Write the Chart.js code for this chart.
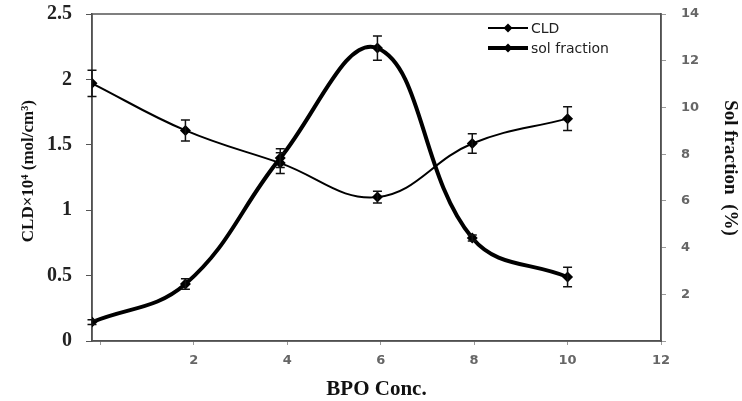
<!DOCTYPE html>
<html>
<head>
<meta charset="utf-8">
<script src="https://cdn.jsdelivr.net/npm/chart.js@4/dist/chart.umd.min.js"></script>
<style>
body{margin:0;background:#fff}
#wrap{width:742px;height:401px;position:relative}
</style>
</head>
<body>
<div id="wrap"><canvas id="bpoChart"></canvas></div>
<script>

// BPO concentration (x) for each measured sample
const bpoConc=[-0.18,1.82,3.85,5.93,7.96,10]

// crosslink density, left axis, with +/- error
const cld=[1.97,1.61,1.36,1.10,1.51,1.70]
const cldErr=[0.10,0.08,0.08,0.045,0.075,0.09]

// sol fraction in %, right axis, with +/- error
const solFraction=[0.81,2.44,7.83,12.54,4.41,2.74]
const solErr=[0.1,0.22,0.4,0.52,0.13,0.42]

const xTicks=[0,2,4,6,8,10,12]

const toPoints=(xs,ys)=>xs.map((x,i)=>({x:x,y:ys[i]}))

// vertical error bars with caps
const errorBars={
id:'errorBars',
afterDatasetsDraw(chart){
const ctx=chart.ctx
chart.data.datasets.forEach((ds,i)=>{
if(!ds.errors)return
const yScale=chart.scales[ds.yAxisID]
const xScale=chart.scales.x
ctx.save()
ctx.strokeStyle='#111'
ctx.lineWidth=1.5
ds.data.forEach((p,j)=>{
const px=xScale.getPixelForValue(p.x)
const top=yScale.getPixelForValue(p.y+ds.errors[j])
const bot=yScale.getPixelForValue(p.y-ds.errors[j])
ctx.beginPath()
ctx.moveTo(px,top);ctx.lineTo(px,bot)
ctx.moveTo(px-4.5,top);ctx.lineTo(px+4.5,top)
ctx.moveTo(px-4.5,bot);ctx.lineTo(px+4.5,bot)
ctx.stroke()
})
ctx.restore()
})
}
}

// box round the plot area plus the small legend in the top right
const frameAndLegend={
id:'frameAndLegend',
beforeDatasetsDraw(chart){
const a=chart.chartArea
const ctx=chart.ctx
ctx.save()
ctx.strokeStyle='#555'
ctx.lineWidth=1.5
ctx.strokeRect(a.left,a.top,a.right-a.left,a.bottom-a.top)
ctx.restore()
},
afterDraw(chart){
const ctx=chart.ctx
ctx.save()
chart.data.datasets.forEach((ds,i)=>{
const y=28+i*20
ctx.strokeStyle='#000'
ctx.lineWidth=ds.borderWidth
ctx.beginPath()
ctx.moveTo(488,y);ctx.lineTo(528,y)
ctx.stroke()
ctx.fillStyle='#000'
ctx.beginPath()
ctx.moveTo(508,y-4.5);ctx.lineTo(512.5,y);ctx.lineTo(508,y+4.5);ctx.lineTo(503.5,y)
ctx.closePath()
ctx.fill()
ctx.font='14px "DejaVu Sans"'
ctx.textBaseline='middle'
ctx.fillStyle='#222'
ctx.fillText(ds.label,531,y+1)
})
ctx.restore()
}
}

// labels overhanging the plot top should not push it down
const noOverhang=s=>{s.paddingTop=0;s.paddingBottom=0}

new Chart(
document.getElementById('bpoChart'),
{
type:'line',
data:{
datasets:[
{
label:'CLD',
data:toPoints(bpoConc,cld),
errors:cldErr,
yAxisID:'y',
borderColor:'#000',
backgroundColor:'#000',
borderWidth:2,
tension:0.4,
pointStyle:'rectRot',
pointRadius:5.5,
pointBorderWidth:0
},
{
label:'sol fraction',
data:toPoints(bpoConc,solFraction),
errors:solErr,
yAxisID:'y1',
borderColor:'#000',
backgroundColor:'#000',
borderWidth:4,
tension:0.4,
pointStyle:'rectRot',
pointRadius:5.5,
pointBorderWidth:0
}
]
},
options:{
responsive:true,
maintainAspectRatio:false,
animation:false,
layout:{padding:{top:14,left:0,right:0,bottom:0}},
plugins:{legend:{display:false},tooltip:{enabled:false}},
scales:{
x:{
type:'linear',
min:-0.18,
max:12,
afterBuildTicks:s=>{s.ticks=xTicks.map(v=>({value:v}))},
afterFit:s=>{s.height=60;s.paddingLeft=0;s.paddingRight=0},
ticks:{
callback:v=>v===0?'':v,
font:{family:'DejaVu Sans',size:13,weight:'bold'},
color:'#666',
padding:8
},
grid:{drawOnChartArea:false,tickLength:4,color:'#999'},
border:{color:'#444',width:1.5},
title:{
display:true,
text:'BPO Conc.',
font:{family:'Liberation Serif',size:21,weight:'bold'},
color:'#111',
padding:{top:0,bottom:-1}
}
},
y:{
position:'left',
min:0,
max:2.5,
afterFit:s=>{s.width=92;noOverhang(s)},
ticks:{
stepSize:0.5,
callback:v=>String(v),
font:{family:'Liberation Serif',size:20,weight:'bold'},
color:'#222',
padding:14
},
grid:{drawOnChartArea:false,tickLength:6,color:'#555'},
border:{color:'#444',width:1.5},
title:{
display:true,
text:'   CLD×10⁴ (mol/cm³)',
font:{family:'Liberation Serif',size:17,weight:'bold'},
color:'#111',
padding:{top:18,bottom:0}
}
},
y1:{
position:'right',
min:0,
max:14,
afterFit:s=>{s.width=81;noOverhang(s)},
ticks:{
stepSize:2,
callback:v=>v===0?'':v,
font:{family:'DejaVu Sans',size:13,weight:'bold'},
color:'#666',
padding:15
},
grid:{drawOnChartArea:false,tickLength:5,color:'#999'},
border:{color:'#444',width:1.5},
title:{
display:true,
text:'Sol fraction  (%)    ',
font:{family:'Liberation Serif',size:19,weight:'bold'},
color:'#111',
padding:{top:1,bottom:0}
}
}
}
},
plugins:[errorBars,frameAndLegend]
})

</script>
</body>
</html>
